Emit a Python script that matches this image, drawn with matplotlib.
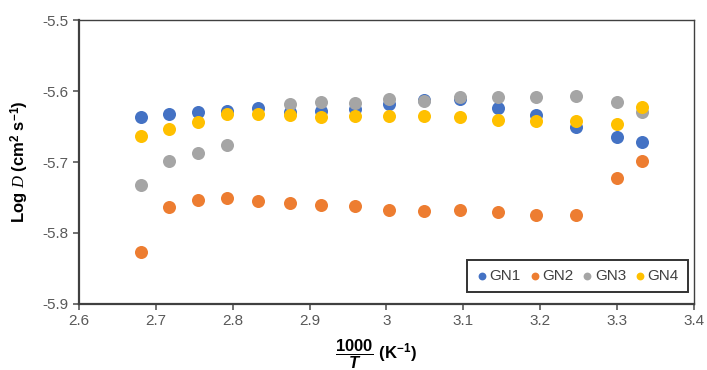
import matplotlib
matplotlib.use("Agg")
import matplotlib.pyplot as plt

# === Données ===
inv_T = [2.681, 2.717, 2.755, 2.793, 2.833, 2.874, 2.915, 2.959,
         3.003, 3.049, 3.096, 3.145, 3.195, 3.247, 3.300, 3.333]
gn1 = [-5.636, -5.632, -5.630, -5.628, -5.624, -5.629, -5.628, -5.625,
       -5.618, -5.612, -5.611, -5.624, -5.634, -5.650, -5.665, -5.672]
gn2 = [-5.827, -5.763, -5.753, -5.751, -5.755, -5.758, -5.760, -5.762,
       -5.767, -5.769, -5.767, -5.770, -5.774, -5.775, -5.722, -5.698]
gn3 = [-5.732, -5.699, -5.688, -5.676, None, -5.618, -5.616, -5.617,
       -5.611, -5.614, -5.609, -5.609, -5.609, -5.607, -5.616, -5.630]
gn4 = [-5.664, -5.654, -5.643, -5.633, -5.633, -5.634, -5.636, -5.635,
       -5.635, -5.635, -5.636, -5.641, -5.642, -5.642, -5.647, -5.622]
series = [("GN1", gn1, "#4472C4"), ("GN2", gn2, "#ED7D31"),
          ("GN3", gn3, "#A5A5A5"), ("GN4", gn4, "#FFC000")]
x_ticks = [2.6, 2.7, 2.8, 2.9, 3.0, 3.1, 3.2, 3.3, 3.4]
x_labels = ["2.6", "2.7", "2.8", "2.9", "3", "3.1", "3.2", "3.3", "3.4"]
y_ticks = [-5.9, -5.8, -5.7, -5.6, -5.5]

plt.rcParams["font.family"] = ["Liberation Sans", "DejaVu Sans"]
plt.rcParams["axes.unicode_minus"] = False
plt.rcParams["mathtext.fontset"] = "custom"
plt.rcParams["mathtext.rm"] = "Liberation Sans"
plt.rcParams["mathtext.bf"] = "Liberation Sans:bold"
plt.rcParams["mathtext.it"] = "Liberation Serif:italic"
plt.rcParams["mathtext.bfit"] = "Liberation Sans:bold:italic"

fig = plt.figure(figsize=(7.07, 3.70), dpi=100)
ax = fig.add_axes([0.1117, 0.1784, 0.8699, 0.7675])

for name, vals, col in series:
    xs = [x for x, v in zip(inv_T, vals) if v is not None]
    ys = [v for v in vals if v is not None]
    ax.scatter(xs, ys, s=88, color=col, label=name, linewidths=0, zorder=3)

ax.set_xlim(2.6, 3.4)
ax.set_ylim(-5.9, -5.5)
ax.set_xticks(x_ticks)
ax.set_xticklabels(x_labels)
ax.set_yticks(y_ticks)
ax.tick_params(labelsize=11, colors="#595959", length=4, width=1.2,
               labelcolor="#595959")
for s in ["left", "bottom"]:
    ax.spines[s].set_linewidth(1.6)
    ax.spines[s].set_color("#404040")
for s in ["top", "right"]:
    ax.spines[s].set_linewidth(1.0)
    ax.spines[s].set_color("#404040")

ax.set_ylabel(r"Log $\mathit{D}$ (cm$^{\mathbf{2}}$ s$^{\mathbf{-1}}$)",
              fontsize=12, fontweight="bold", labelpad=8)
ax.set_xlabel(r"$\dfrac{\mathbf{1000}}{\mathbfit{T}}$ (K$^{\mathbf{-1}}$)",
              fontsize=12, fontweight="bold")
ax.xaxis.set_label_coords(0.483, -0.118)
ax.xaxis.label.set_verticalalignment("top")

leg = ax.legend(loc="lower right", ncol=4, fontsize=11, frameon=True,
                fancybox=False, edgecolor="black", handletextpad=0.1,
                handlelength=0.8, columnspacing=0.5, markerscale=0.6,
                borderpad=0.6, bbox_to_anchor=(0.99, 0.042),
                borderaxespad=0)
leg.get_frame().set_linewidth(1.4)
for t in leg.get_texts():
    t.set_color("#404040")

fig.savefig("out.png", dpi=100)
